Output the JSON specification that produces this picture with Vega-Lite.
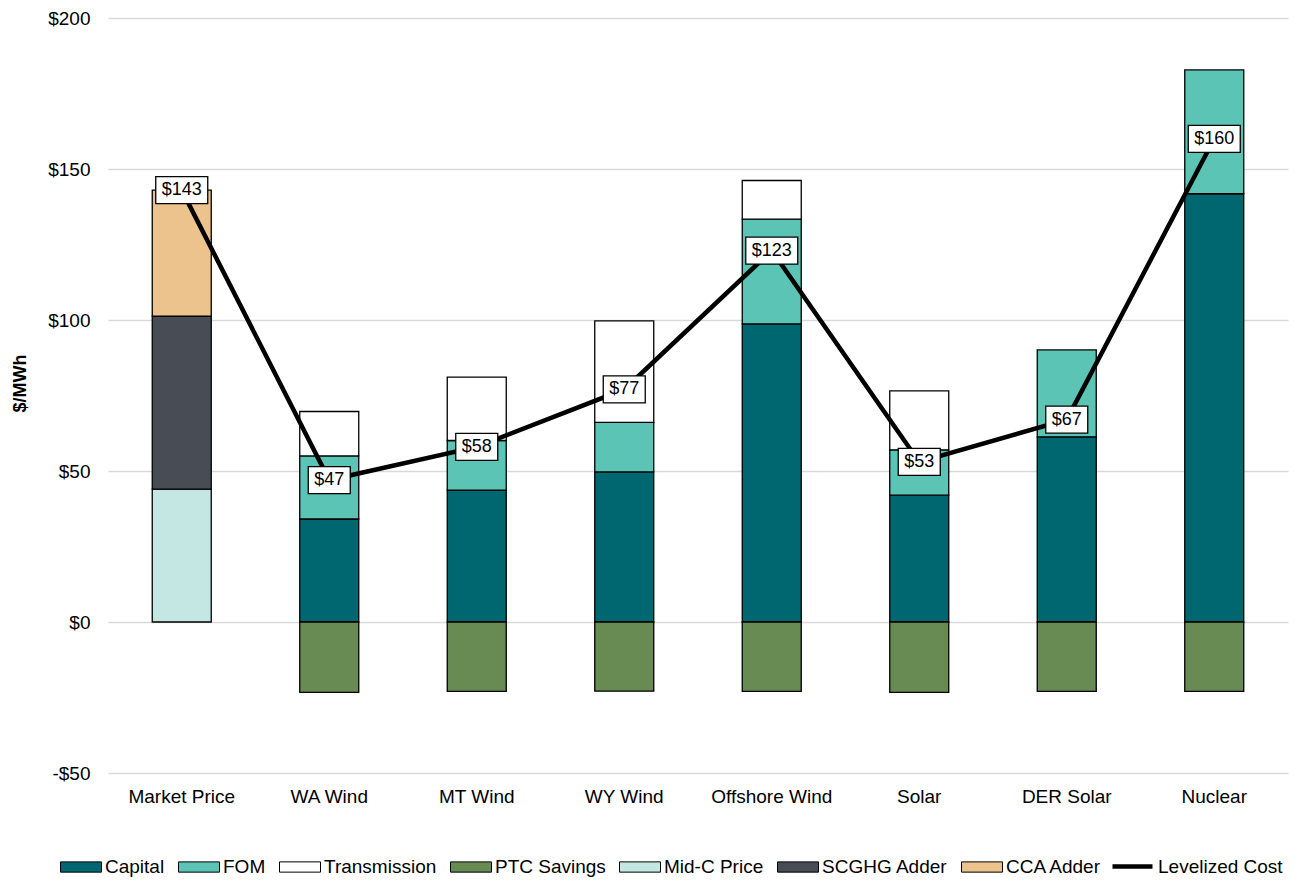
{
  "$schema": "https://vega.github.io/schema/vega-lite/v6.json",
  "width": 1180,
  "height": 755,
  "autosize": {"type": "none"},
  "padding": {"left": 108, "top": 18, "right": 11, "bottom": 109},
  "background": "white",
  "config": {
    "font": "Liberation Sans",
    "view": {"stroke": null},
    "axis": {"labelColor": "black", "titleColor": "black"}
  },
  "datasets": {
    "bars": [
      {"category": "Market Price", "component": "Mid-C Price", "value": 44.0, "rank": 5},
      {"category": "Market Price", "component": "SCGHG Adder", "value": 57.3, "rank": 6},
      {"category": "Market Price", "component": "CCA Adder", "value": 41.7, "rank": 7},
      {"category": "WA Wind", "component": "Capital", "value": 34.1, "rank": 1},
      {"category": "WA Wind", "component": "FOM", "value": 20.9, "rank": 2},
      {"category": "WA Wind", "component": "Transmission", "value": 14.7, "rank": 3},
      {"category": "WA Wind", "component": "PTC Savings", "value": -23.3, "rank": 4},
      {"category": "MT Wind", "component": "Capital", "value": 43.7, "rank": 1},
      {"category": "MT Wind", "component": "FOM", "value": 16.4, "rank": 2},
      {"category": "MT Wind", "component": "Transmission", "value": 21.0, "rank": 3},
      {"category": "MT Wind", "component": "PTC Savings", "value": -23.0, "rank": 4},
      {"category": "WY Wind", "component": "Capital", "value": 49.7, "rank": 1},
      {"category": "WY Wind", "component": "FOM", "value": 16.4, "rank": 2},
      {"category": "WY Wind", "component": "Transmission", "value": 33.6, "rank": 3},
      {"category": "WY Wind", "component": "PTC Savings", "value": -22.9, "rank": 4},
      {"category": "Offshore Wind", "component": "Capital", "value": 98.7, "rank": 1},
      {"category": "Offshore Wind", "component": "FOM", "value": 34.7, "rank": 2},
      {"category": "Offshore Wind", "component": "Transmission", "value": 12.8, "rank": 3},
      {"category": "Offshore Wind", "component": "PTC Savings", "value": -23.0, "rank": 4},
      {"category": "Solar", "component": "Capital", "value": 42.0, "rank": 1},
      {"category": "Solar", "component": "FOM", "value": 15.0, "rank": 2},
      {"category": "Solar", "component": "Transmission", "value": 19.5, "rank": 3},
      {"category": "Solar", "component": "PTC Savings", "value": -23.3, "rank": 4},
      {"category": "DER Solar", "component": "Capital", "value": 61.3, "rank": 1},
      {"category": "DER Solar", "component": "FOM", "value": 28.8, "rank": 2},
      {"category": "DER Solar", "component": "PTC Savings", "value": -23.0, "rank": 4},
      {"category": "Nuclear", "component": "Capital", "value": 141.8, "rank": 1},
      {"category": "Nuclear", "component": "FOM", "value": 41.0, "rank": 2},
      {"category": "Nuclear", "component": "PTC Savings", "value": -23.0, "rank": 4}
    ],
    "cost": [
      {"category": "Market Price", "cost": 143},
      {"category": "WA Wind", "cost": 47},
      {"category": "MT Wind", "cost": 58},
      {"category": "WY Wind", "cost": 77},
      {"category": "Offshore Wind", "cost": 123},
      {"category": "Solar", "cost": 53},
      {"category": "DER Solar", "cost": 67},
      {"category": "Nuclear", "cost": 160}
    ]
  },
  "layer": [
    {
      "data": {"name": "bars"},
      "mark": {"type": "bar", "width": {"band": 0.4}, "stroke": "black", "strokeWidth": 1.3},
      "encoding": {
        "x": {
          "field": "category", "type": "nominal",
          "sort": ["Market Price", "WA Wind", "MT Wind", "WY Wind", "Offshore Wind", "Solar", "DER Solar", "Nuclear"],
          "scale": {"paddingInner": 0, "paddingOuter": 0},
          "axis": {"title": null, "labelAngle": 0, "domain": false, "ticks": false, "grid": false, "labelFontSize": 19, "labelPadding": 14}
        },
        "y": {
          "field": "value", "type": "quantitative",
          "scale": {"domain": [-50, 200], "nice": false},
          "axis": {
            "title": "$/MWh", "titleFontSize": 18, "titleFontWeight": "bold", "titlePadding": 18, "titleY": 365,
            "values": [-50, 0, 50, 100, 150, 200],
            "labelExpr": "datum.value < 0 ? '-$' + abs(datum.value) : '$' + datum.value",
            "domain": false, "ticks": false, "grid": true, "gridColor": "#D9D9D9", "gridWidth": 1.3,
            "labelFontSize": 19, "labelPadding": 18
          }
        },
        "color": {
          "field": "component", "type": "nominal",
          "scale": {
            "domain": ["Capital", "FOM", "Transmission", "PTC Savings", "Mid-C Price", "SCGHG Adder", "CCA Adder"],
            "range": ["#006670", "#5BC4B4", "#FFFFFF", "#688A53", "#C4E7E3", "#474C55", "#ECC38D"]
          },
          "legend": {
            "orient": "none", "legendX": -48, "legendY": 828, "direction": "horizontal", "columns": 7,
            "title": null, "symbolType": "M-1,-0.25H1V0.25H-1Z", "symbolSize": 1681,
            "symbolStrokeColor": "black", "symbolStrokeWidth": 1, "symbolOpacity": 1,
            "labelFontSize": 19, "labelOffset": 3, "columnPadding": 11, "padding": 0, "labelColor": "black"
          }
        },
        "order": {"field": "rank", "type": "quantitative"}
      }
    },
    {
      "data": {"name": "cost"},
      "mark": {"type": "line", "strokeWidth": 4.5},
      "encoding": {
        "x": {"field": "category", "type": "nominal", "sort": ["Market Price", "WA Wind", "MT Wind", "WY Wind", "Offshore Wind", "Solar", "DER Solar", "Nuclear"]},
        "y": {"field": "cost", "type": "quantitative"},
        "stroke": {
          "datum": "Levelized Cost",
          "scale": {"range": ["black"]},
          "legend": {
            "orient": "none", "legendX": 1002, "legendY": 826, "title": null,
            "symbolType": "stroke", "symbolSize": 1600, "symbolStrokeWidth": 4.5,
            "labelFontSize": 19, "labelOffset": 3, "padding": 0, "labelColor": "black"
          }
        }
      }
    },
    {
      "data": {"name": "cost"},
      "transform": [{"filter": "datum.cost < 100"}],
      "mark": {"type": "point", "shape": "M-1,-0.643H1V0.643H-1Z", "size": 1764, "filled": true, "fill": "white", "stroke": "black", "strokeWidth": 1.3, "opacity": 1},
      "encoding": {
        "x": {"field": "category", "type": "nominal", "sort": ["Market Price", "WA Wind", "MT Wind", "WY Wind", "Offshore Wind", "Solar", "DER Solar", "Nuclear"]},
        "y": {"field": "cost", "type": "quantitative"}
      }
    },
    {
      "data": {"name": "cost"},
      "transform": [{"filter": "datum.cost >= 100"}],
      "mark": {"type": "point", "shape": "M-1,-0.519H1V0.519H-1Z", "size": 2704, "filled": true, "fill": "white", "stroke": "black", "strokeWidth": 1.3, "opacity": 1},
      "encoding": {
        "x": {"field": "category", "type": "nominal", "sort": ["Market Price", "WA Wind", "MT Wind", "WY Wind", "Offshore Wind", "Solar", "DER Solar", "Nuclear"]},
        "y": {"field": "cost", "type": "quantitative"}
      }
    },
    {
      "data": {"name": "cost"},
      "mark": {"type": "text", "fontSize": 18, "align": "center", "baseline": "middle", "color": "black"},
      "encoding": {
        "x": {"field": "category", "type": "nominal", "sort": ["Market Price", "WA Wind", "MT Wind", "WY Wind", "Offshore Wind", "Solar", "DER Solar", "Nuclear"]},
        "y": {"field": "cost", "type": "quantitative"},
        "text": {"field": "cost", "type": "quantitative", "format": "$.0f"}
      }
    }
  ]
}
